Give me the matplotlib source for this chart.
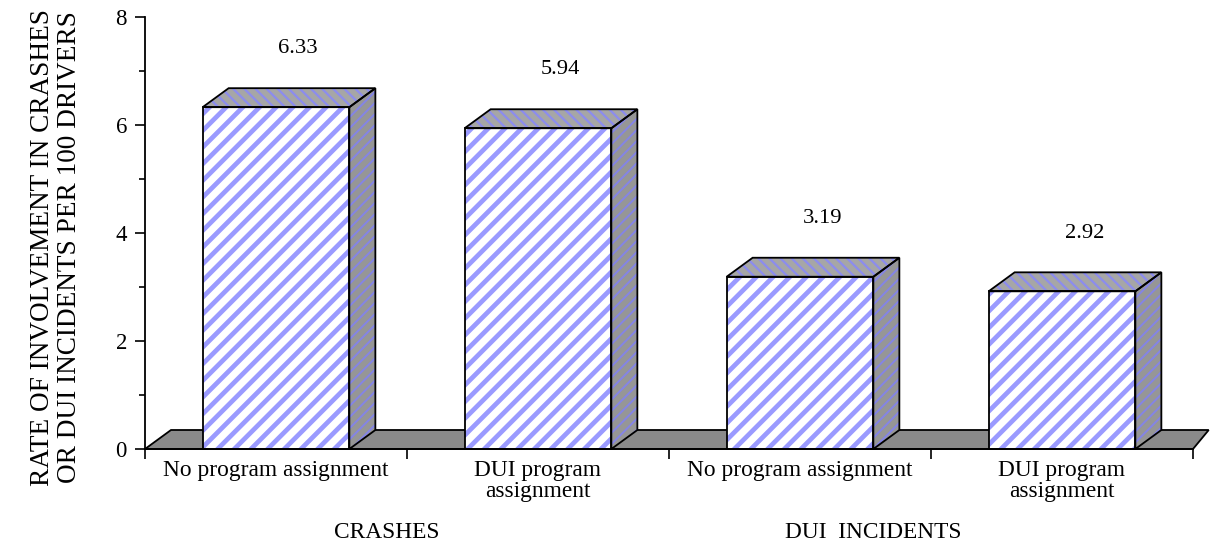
import matplotlib
matplotlib.use("Agg")
import matplotlib.pyplot as plt
from matplotlib.patches import Polygon
from matplotlib.ticker import MultipleLocator

categories = ["No program assignment", "DUI program\nassignment",
              "No program assignment", "DUI program\nassignment"]
groups = ["CRASHES", "DUI  INCIDENTS"]
values = [6.33, 5.94, 3.19, 2.92]
value_labels = ["6.33", "5.94", "3.19", "2.92"]

plt.rcParams['font.family'] = ['Liberation Serif', 'DejaVu Serif']

fig = plt.figure(figsize=(12.11, 5.44), dpi=100)
ax = fig.add_axes([145 / 1211, 95 / 544, 1048 / 1211, 432 / 544])
ax.set_xlim(-0.5, 3.5)
ax.set_ylim(0, 8)

# depth offset of the fake 3d boxes (data units)
dx = 26 / 262
dy = 19 / 54
half = 0.28

blue = "#9a9aff"

def face(pts, fc, hc, hatch, z, hlw=3.2):
    plt.rcParams['hatch.linewidth'] = hlw
    ax.add_patch(Polygon(pts, closed=True, facecolor=fc, edgecolor=hc, hatch=hatch,
                         linewidth=0, zorder=z, clip_on=False))
    ax.add_patch(Polygon(pts, closed=True, fill=False, edgecolor="black",
                         linewidth=1.3, zorder=z + 0.1, clip_on=False))

# floor
x0, x1 = -0.5, 3.5
face([(x0, 0), (x0 + dx, dy), (x1 + 0.06, dy), (x1, 0)], "#8a8a8a", "#8a8a8a", None, 1)

for i, v in enumerate(values):
    l, r = i - half, i + half
    face([(l, 0), (r, 0), (r, v), (l, v)], "white", blue, "//", 3, 3.4)
    face([(r, 0), (r + dx, dy), (r + dx, v + dy), (r, v)], "#969696", "#8484e6", "///", 3, 1.4)
    face([(l, v), (l + dx, v + dy), (r + dx, v + dy), (r, v)], "#a6a6a6", "#8c8cee", "\\\\\\", 3, 1.6)
    ax.text(i + 0.085, v + 1.08, value_labels[i], ha="center", va="center", fontsize=16.2)

for s in ["top", "right"]:
    ax.spines[s].set_visible(False)
ax.spines["left"].set_linewidth(1.3)
ax.spines["bottom"].set_linewidth(1.3)
ax.spines["bottom"].set_zorder(5)

ax.yaxis.set_major_locator(MultipleLocator(2))
ax.yaxis.set_minor_locator(MultipleLocator(1))
ax.tick_params(axis="y", which="major", direction="out", length=7, width=1.2, labelsize=16.5, pad=6)
ax.tick_params(axis="y", which="minor", direction="out", length=4, width=1.2)

ax.set_xticks([-0.5, 0.5, 1.5, 2.5, 3.5])
ax.set_xticklabels([])
ax.tick_params(axis="x", direction="out", length=7, width=1.2)
for i, c in enumerate(categories):
    ax.text(i, -0.2, c, ha="center", va="top", fontsize=16.8, linespacing=1.0)

fig.text(387 / 1211, 1 - 532 / 544, groups[0], ha="center", va="center", fontsize=16.8)
fig.text(873 / 1211, 1 - 533 / 544, groups[1], ha="center", va="center", fontsize=16.8)

fig.text(43 / 1211, 1 - 247 / 544, "RATE OF INVOLVEMENT IN CRASHES",
         rotation=90, ha="center", va="center", fontsize=19.6)
fig.text(70 / 1211, 1 - 247 / 544, "OR DUI INCIDENTS PER 100 DRIVERS",
         rotation=90, ha="center", va="center", fontsize=19.6)

fig.savefig("out.png", dpi=100)
